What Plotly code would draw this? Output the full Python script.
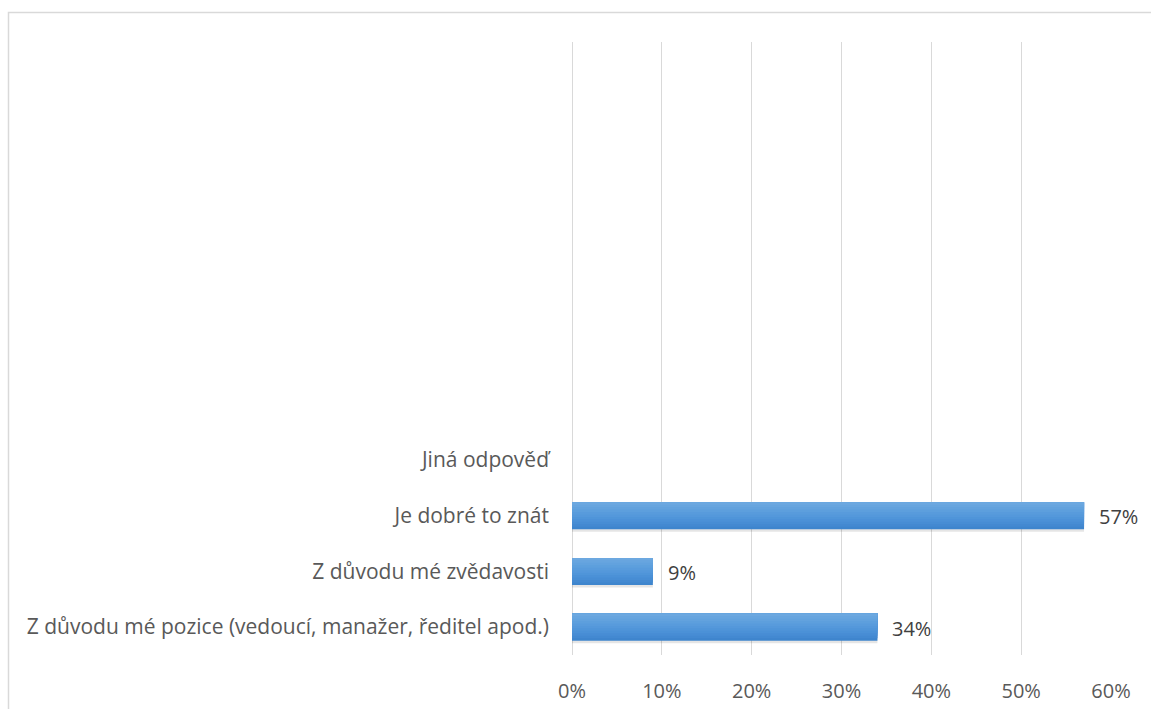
import plotly.graph_objects as go

# Survey answers, bottom to top
categories = [
    "Z důvodu mé pozice (vedoucí, manažer, ředitel apod.)",
    "Z důvodu mé zvědavosti",
    "Je dobré to znát",
    "Jiná odpověď",
]
shares = [0.34, 0.09, 0.57, 0.0]
x_ticks = [0, 0.1, 0.2, 0.3, 0.4, 0.5, 0.6]
x_tick_labels = ["0%", "10%", "20%", "30%", "40%", "50%", "60%"]

positions = list(range(len(categories)))
bar_width = 0.485

# nested bars anchored at the top edge, dark to light, give a vertical gradient
grad_colors = ["#3E85CD", "#4389D1", "#478DD4", "#4B91D7", "#4F95D9",
               "#5498DB", "#589BDC", "#5D9FDD", "#62A2DE", "#67A5DF", "#6CA8E0"]
n = len(grad_colors)
fig = go.Figure()

# soft drop shadow under each bar
fig.add_trace(go.Bar(
    y=positions, x=shares, orientation="h",
    width=bar_width, offset=-bar_width / 2 - 0.045,
    marker=dict(color="rgba(0,0,0,0.10)", line=dict(width=0)),
    hoverinfo="skip", showlegend=False,
))

for i, col in enumerate(grad_colors):
    w = bar_width * (1 - i / n)
    fig.add_trace(go.Bar(
        y=positions, x=shares, orientation="h",
        width=w, offset=bar_width / 2 - w,
        marker=dict(color=col, line=dict(width=0)),
        hoverinfo="skip", showlegend=False,
    ))

L, R, T, B = 572, 40, 42, 54
W, H = 1151, 709
pw, ph = W - L - R, H - T - B

# value labels to the right of the bars
annotations = [
    dict(x=v, y=p, xref="x", yref="y", text=f"{round(v * 100)}%",
         showarrow=False, xanchor="left", yanchor="middle", xshift=13, yshift=-1,
         font=dict(family="Open Sans", size=20, color="#404040"))
    for p, v in zip(positions, shares) if v > 0
]

def px_x(px):
    return (px - L) / pw

def px_y(py):
    return (H - B - py) / ph

# chart frame (left and top edges)
frame = dict(type="path", xref="paper", yref="paper",
             path=f"M {px_x(8.5)},{px_y(720)} L {px_x(8.5)},{px_y(12.5)} L {px_x(1160)},{px_y(12.5)}",
             line=dict(color="#D9D9D9", width=1.5))

fig.update_layout(
    width=W, height=H,
    margin=dict(l=L, r=R, t=T, b=B),
    paper_bgcolor="white", plot_bgcolor="white",
    barmode="overlay",
    shapes=[frame],
    annotations=annotations,
    font=dict(family="Open Sans", size=20, color="#595959"),
    xaxis=dict(
        range=[0, 0.6], tickvals=x_ticks, ticktext=x_tick_labels,
        showgrid=True, gridcolor="#D9D9D9", gridwidth=1.3,
        zeroline=True, zerolinecolor="#D9D9D9", zerolinewidth=1.3,
        showline=False, ticks="", automargin=False,
        ticklabelstandoff=22, fixedrange=True,
    ),
    yaxis=dict(
        range=[-0.5, 10.5], tickvals=positions, ticktext=categories,
        tickfont=dict(size=21),
        showgrid=False, zeroline=False, showline=False, ticks="", automargin=False,
        ticklabelstandoff=22, fixedrange=True,
    ),
)

fig.write_html("out.html")
